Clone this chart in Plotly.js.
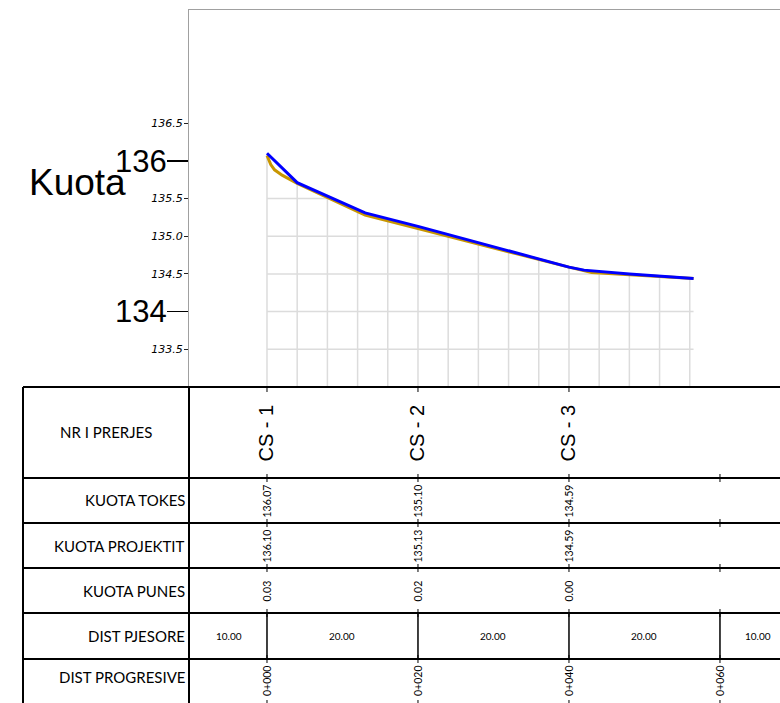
<!DOCTYPE html>
<html><head><meta charset="utf-8">
<script src="https://cdn.plot.ly/plotly-3.0.1.min.js"></script>
<style>html,body{margin:0;padding:0;overflow:hidden;background:#fff}#chart{width:800px;height:720px}</style>
</head><body><div id="chart"></div>
<script>
// ---- data ----
const groundX = [0, 0.5, 1, 2, 4, 13, 20, 30, 40, 43, 48, 56.5];
const groundY = [136.07, 135.95, 135.88, 135.81, 135.70, 135.28, 135.10, 134.84, 134.59, 134.52, 134.49, 134.44];
const projectX = [0, 4, 13, 20, 40, 42, 48, 56.5];
const projectY = [136.10, 135.71, 135.31, 135.13, 134.59, 134.55, 134.50, 134.44];

const sectionNames = ['CS - 1', 'CS - 2', 'CS - 3'];
const sectionStations = [0, 20, 40];
const kuotaTokes = ['136.07', '135.10', '134.59'];
const kuotaProjektit = ['136.10', '135.13', '134.59'];
const kuotaPunes = ['0.03', '0.02', '0.00'];
const chainageStations = [0, 20, 40, 60];
const chainageLabels = ['0+000', '0+020', '0+040', '0+060'];
const segmentBounds = [-10, 0, 20, 40, 60, 70];
const distPjesore = ['10.00', '20.00', '20.00', '20.00', '10.00'];
const rowLabels = ['NR I PRERJES', 'KUOTA TOKES', 'KUOTA PROJEKTIT', 'KUOTA PUNES', 'DIST PJESORE', 'DIST PROGRESIVE'];
const minorTicks = [133.5, 134.5, 135.0, 135.5, 136.5];
const majorTicks = [134, 136];
const gridXs = [0, 4, 8, 12, 16, 20, 24, 28, 32, 36, 40, 44, 48, 52, 56];
const gridYs = [133.5, 134.0, 134.5, 135.0, 135.5];

// ---- layout geometry (pixels) ----
const W = 800, H = 720, ML = 189, MT = 10, PB = 387;
const plotH = PB - MT, plotW = W - ML;
const py = p => (PB - p) / plotH;
const px = p => (p - ML) / plotW;
const rowEdges = [387, 478, 523, 568, 613, 659, 704];
const rowLabelY = [432, 500, 546, 591, 636, 677];
const rowMid = i => (rowEdges[i] + rowEdges[i + 1]) / 2;
const yMin = 133, yMax = 138;

function groundAt(x) {
  for (let i = 0; i < groundX.length - 1; i++) {
    if (x >= groundX[i] && x <= groundX[i + 1]) {
      const t = (x - groundX[i]) / (groundX[i + 1] - groundX[i]);
      return groundY[i] + t * (groundY[i + 1] - groundY[i]);
    }
  }
  return groundY[groundY.length - 1];
}
function groundCross(h) {
  for (let i = 0; i < groundX.length - 1; i++) {
    if (groundY[i] >= h && groundY[i + 1] < h) {
      const t = (groundY[i] - h) / (groundY[i] - groundY[i + 1]);
      return groundX[i] + t * (groundX[i + 1] - groundX[i]);
    }
  }
  return groundX[groundX.length - 1];
}

const shapes = [];
const gridLine = {color: '#dcdcdc', width: 1.5};
gridXs.forEach(x => shapes.push({type: 'line', layer: 'below', xref: 'x', yref: 'y', x0: x, x1: x, y0: yMin, y1: groundAt(x), line: gridLine}));
gridYs.forEach(h => shapes.push({type: 'line', layer: 'below', xref: 'x', yref: 'y', x0: groundX[0], x1: groundCross(h), y0: h, y1: h, line: gridLine}));

const black = {color: '#000', width: 2};
rowEdges.forEach(e => shapes.push({type: 'line', xref: 'paper', yref: 'paper', x0: px(23), x1: px(W), y0: py(e), y1: py(e), line: black}));
[23, 189].forEach(x => shapes.push({type: 'line', xref: 'paper', yref: 'paper', x0: px(x), x1: px(x), y0: py(387), y1: py(H), line: black}));
chainageStations.forEach(s => shapes.push({type: 'line', xref: 'x', yref: 'paper', x0: s, x1: s, y0: py(613), y1: py(659), line: {color: '#000', width: 1.5}}));
sectionStations.forEach(s => shapes.push({type: 'line', xref: 'x', yref: 'paper', x0: s, x1: s, y0: py(387), y1: py(392), line: {color: '#000', width: 1}}));
rowEdges.slice(1).forEach(e => chainageStations.forEach(s => shapes.push({type: 'line', xref: 'x', yref: 'paper', x0: s, x1: s, y0: py(e - 4), y1: py(e + 4), line: {color: '#000', width: 1}})));

const ann = [];
const tblFont = {family: 'Lato, Carlito, sans-serif', size: 15, color: '#000'};
const valFont = {family: 'Lato, Carlito, sans-serif', size: 10.5, color: '#000'};
rowLabels.forEach((t, i) => ann.push({
  text: t, xref: 'paper', yref: 'paper', showarrow: false,
  x: i === 0 ? px(106) : px(187), xanchor: i === 0 ? 'center' : 'right',
  y: py(rowLabelY[i]), yanchor: 'middle', font: tblFont
}));
sectionNames.forEach((t, i) => ann.push({
  text: t, xref: 'x', yref: 'paper', showarrow: false, textangle: -90,
  x: sectionStations[i], y: py(rowMid(0)), xanchor: 'center', yanchor: 'middle',
  font: {family: 'Liberation Sans, Arial, sans-serif', size: 20, color: '#000'}
}));
[kuotaTokes, kuotaProjektit, kuotaPunes].forEach((arr, r) => arr.forEach((t, i) => ann.push({
  text: t, xref: 'x', yref: 'paper', showarrow: false, textangle: -90,
  x: sectionStations[i], y: py(rowMid(r + 1)), xanchor: 'center', yanchor: 'middle', font: valFont
})));
distPjesore.forEach((t, i) => ann.push({
  text: t, xref: 'x', yref: 'paper', showarrow: false,
  x: (segmentBounds[i] + segmentBounds[i + 1]) / 2, y: py(rowMid(4)), xanchor: 'center', yanchor: 'middle',
  font: {family: 'Lato, Carlito, sans-serif', size: 10, color: '#000'}
}));
chainageLabels.forEach((t, i) => ann.push({
  text: t, xref: 'x', yref: 'paper', showarrow: false, textangle: -90,
  x: chainageStations[i], y: py(681), xanchor: 'center', yanchor: 'middle', font: valFont
}));
ann.push({text: 'Kuota', xref: 'paper', yref: 'paper', showarrow: false, x: px(27), xanchor: 'left',
  y: py(182), yanchor: 'middle', font: {family: 'Liberation Sans, Arial, sans-serif', size: 37, color: '#000'}});

const traces = [
  {x: groundX, y: groundY, type: 'scatter', mode: 'lines', line: {color: '#C89600', width: 3}, hoverinfo: 'skip', name: 'Kuota tokes'},
  {x: projectX, y: projectY, type: 'scatter', mode: 'lines', line: {color: '#0000FF', width: 3}, hoverinfo: 'skip', name: 'Kuota projektit'},
  {x: [null], y: [null], yaxis: 'y2', type: 'scatter', mode: 'lines', showlegend: false, hoverinfo: 'skip'}
];

const layout = {
  width: W, height: H,
  margin: {l: ML, r: 0, t: MT, b: H - PB, pad: 0},
  paper_bgcolor: '#fff', plot_bgcolor: '#fff',
  showlegend: false,
  xaxis: {range: [-10.33, 70.6], showgrid: false, zeroline: false, showticklabels: false, ticks: '',
    showline: true, mirror: true, linecolor: '#a0a0a0', linewidth: 1, fixedrange: true},
  yaxis: {range: [yMin, yMax], tickvals: minorTicks, ticktext: minorTicks.map(v => v.toFixed(1)),
    tickfont: {family: 'DejaVu Sans', size: 11, style: 'italic', color: '#000'},
    ticks: 'outside', ticklen: 4, tickcolor: '#222', tickwidth: 1, ticklabelstandoff: -1,
    showgrid: false, zeroline: false, showline: true, mirror: true, linecolor: '#a0a0a0', linewidth: 1, fixedrange: true},
  yaxis2: {overlaying: 'y', side: 'left', anchor: 'x', range: [yMin, yMax], tickvals: majorTicks,
    ticktext: majorTicks.map(String), tickfont: {family: 'Liberation Sans, Arial, sans-serif', size: 31, color: '#000'},
    ticks: 'outside', ticklen: 21, tickwidth: 1.5, tickcolor: '#000', ticklabelstandoff: -6,
    showgrid: false, zeroline: false, showline: false, fixedrange: true},
  shapes: shapes,
  annotations: ann
};
Plotly.newPlot('chart', traces, layout, {displayModeBar: false, staticPlot: true});
</script>
</body></html>
